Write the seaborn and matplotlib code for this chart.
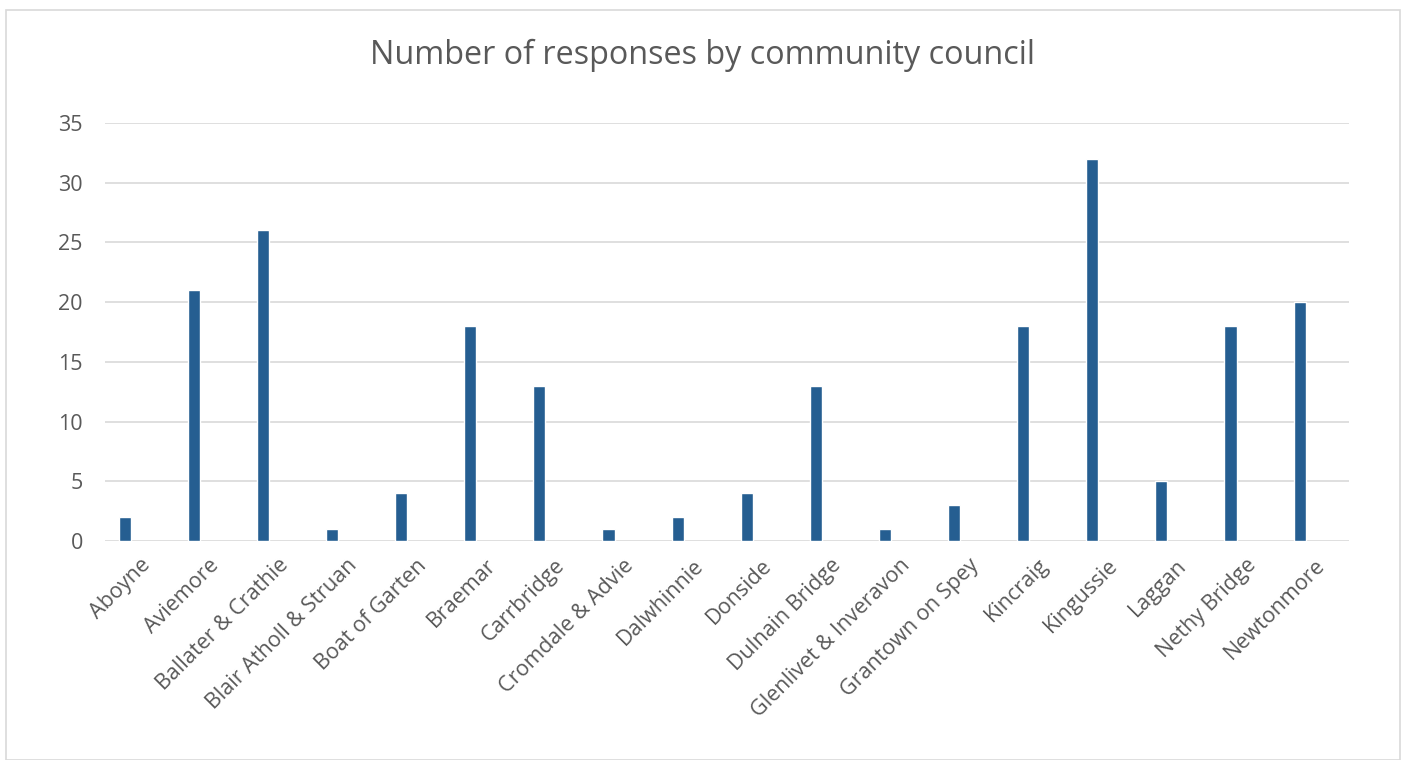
import matplotlib
matplotlib.use("Agg")
import matplotlib.pyplot as plt
import seaborn as sns
import pandas as pd
import numpy as np
from matplotlib.patches import Rectangle

categories = ["Aboyne", "Aviemore", "Ballater & Crathie", "Blair Atholl & Struan",
              "Boat of Garten", "Braemar", "Carrbridge", "Cromdale & Advie",
              "Dalwhinnie", "Donside", "Dulnain Bridge", "Glenlivet & Inveravon",
              "Grantown on Spey", "Kincraig", "Kingussie", "Laggan",
              "Nethy Bridge", "Newtonmore"]
responses = [2, 21, 26, 1, 4, 18, 13, 1, 2, 4, 13, 1, 3, 18, 32, 5, 18, 20]
y_ticks = [0, 5, 10, 15, 20, 25, 30, 35]

df = pd.DataFrame({"council": categories, "responses": responses})

sns.set_theme(style="white")
plt.rcParams['font.family'] = ['Open Sans', 'DejaVu Sans']

fig = plt.figure(figsize=(14.06, 7.6), dpi=100)
ax = fig.add_axes([105/1406, 1 - 541/760, (1349-105)/1406, (541-123)/760])

sns.barplot(data=df, x="council", y="responses", color="#255E91",
            width=0.175, ax=ax, saturation=1)

# bars sit left of the category slot centre (as in the source chart)
offset = 0.215
ax.set_xlim(-0.5 + offset, len(categories) - 0.5 + offset)
ax.set_xticks(np.arange(len(categories)) + offset, categories)
ax.set_ylim(0, 35)
ax.set_yticks(y_ticks)
ax.yaxis.grid(True, color="#d9d9d9", linewidth=1.2)
ax.set_axisbelow(True)
for s in ax.spines.values():
    s.set_visible(False)
ax.tick_params(axis="both", length=0, colors="#595959", labelsize=15.5)
ax.tick_params(axis="y", pad=16)
ax.tick_params(axis="x", pad=10)
for lab in ax.get_xticklabels():
    lab.set_rotation(45)
    lab.set_ha("right")
    lab.set_rotation_mode("anchor")
ax.set_xlabel("")
ax.set_ylabel("")

fig.text(0.5, 1 - 55/760, "Number of responses by community council",
         ha="center", va="center", fontsize=23.3, color="#595959")

fig.patches.append(Rectangle((6/1406, 0), 1394/1406, 1 - 10/760,
                             transform=fig.transFigure, fill=False,
                             edgecolor="#d9d9d9", linewidth=1.2))

fig.savefig("out.png", dpi=100, facecolor="white")
